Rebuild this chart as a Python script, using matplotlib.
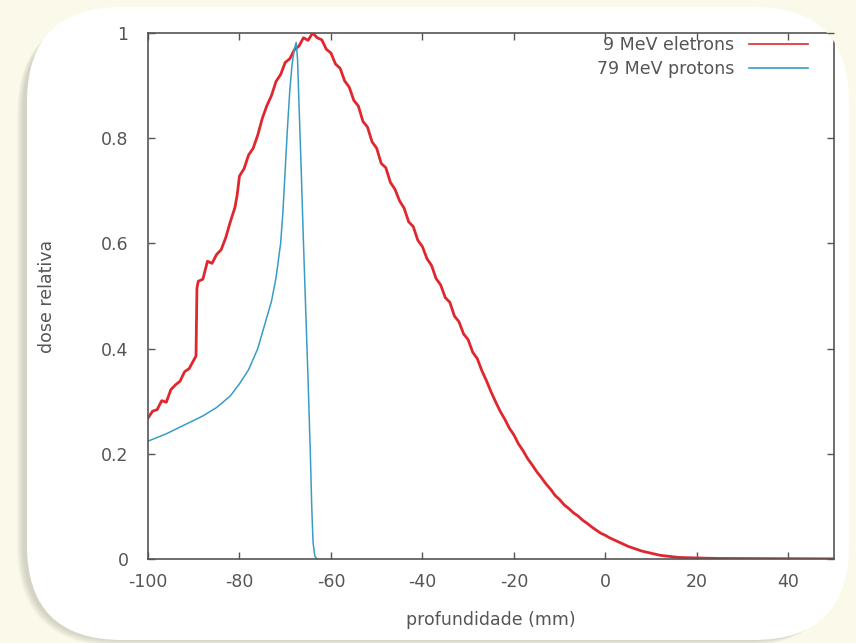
import numpy as np
import matplotlib
matplotlib.use("Agg")
import matplotlib.pyplot as plt
from matplotlib.patches import FancyBboxPatch

plt.rcParams['axes.unicode_minus'] = False
plt.rcParams['font.family'] = 'DejaVu Sans'

# 9 MeV electrons (depth in mm, relative dose)
elec_x = [-100, -99, -98, -97, -96, -95, -94, -93, -92, -91, -90, -89.5, -89.3,
          -89, -88, -87, -86, -85, -84, -83, -82, -81, -80.5, -80, -79, -78, -77,
          -76, -75, -74, -73, -72, -71, -70, -69, -68, -67, -66, -65, -64, -63,
          -62, -61, -60, -59, -58, -57, -56, -55, -54, -53, -52, -51, -50, -49,
          -48, -47, -46, -45, -44, -43, -42, -41, -40, -39, -38, -37, -36, -35,
          -34, -33, -32, -31, -30, -29, -28, -27, -26, -25, -24, -23, -22, -21,
          -20, -19, -18, -17, -16, -15, -14, -13, -12, -11, -10, -9, -8, -7, -6,
          -5, -4, -3, -2, -1, 0, 1, 2, 3, 4, 5, 6, 7, 8, 9, 10, 11, 12, 13, 14,
          15, 16, 18, 20, 22, 25, 30, 35, 40, 45, 50]
elec_y = [0.268, 0.281, 0.284, 0.301, 0.298, 0.322, 0.331, 0.338, 0.356, 0.362,
          0.378, 0.386, 0.515,
          0.528, 0.532, 0.566, 0.562, 0.579, 0.588, 0.611, 0.641, 0.668, 0.692,
          0.728, 0.742, 0.768, 0.781, 0.806, 0.838, 0.862, 0.881, 0.908, 0.921,
          0.944, 0.951, 0.968, 0.975, 0.991, 0.986, 1.0, 0.991, 0.987, 0.969,
          0.962, 0.941, 0.933, 0.909, 0.897, 0.872, 0.861, 0.832, 0.821, 0.793,
          0.781, 0.752, 0.744, 0.716, 0.703, 0.681, 0.667, 0.641, 0.632, 0.606,
          0.594, 0.571, 0.558, 0.533, 0.521, 0.497, 0.488, 0.462, 0.451, 0.428,
          0.417, 0.393, 0.381, 0.358, 0.339, 0.318, 0.299, 0.281, 0.266, 0.249,
          0.236, 0.219, 0.206, 0.191, 0.179, 0.166, 0.155, 0.143, 0.133, 0.121,
          0.113, 0.103, 0.096, 0.088, 0.082, 0.074, 0.068, 0.061, 0.055, 0.049,
          0.045, 0.040, 0.036, 0.032, 0.028, 0.024, 0.021, 0.018, 0.015, 0.013,
          0.011, 0.009, 0.007, 0.006, 0.005, 0.004, 0.003, 0.0025, 0.002,
          0.0015, 0.001, 0.0008, 0.0006, 0.0005, 0.0004, 0.0003]

# 79 MeV protons
prot_x = [-100, -96, -92, -88, -85, -82, -80, -78, -76, -74, -73, -72, -71,
          -70.5, -70, -69.5, -69, -68.5, -68, -67.6, -67.3, -67, -66.5, -66,
          -65.5, -65, -64.5, -64.2, -63.9, -63.5, -63]
prot_y = [0.224, 0.238, 0.255, 0.272, 0.288, 0.31, 0.333, 0.36, 0.40, 0.46,
          0.49, 0.535, 0.60, 0.66, 0.74, 0.82, 0.89, 0.94, 0.97, 0.982, 0.95,
          0.87, 0.74, 0.60, 0.47, 0.34, 0.20, 0.10, 0.03, 0.005, 0.0]

xticks = [-100, -80, -60, -40, -20, 0, 20, 40]
yticks = [0, 0.2, 0.4, 0.6, 0.8, 1]
ytick_labels = ['0', '0.2', '0.4', '0.6', '0.8', '1']

W, H = 856, 643
fig = plt.figure(figsize=(W / 100, H / 100), dpi=100, facecolor='#fbfaea')

# background card with soft shadow (left / bottom)
bg = fig.add_axes([0, 0, 1, 1])
bg.set_xlim(0, W)
bg.set_ylim(H, 0)
bg.axis('off')
for k in range(7):
    sh = FancyBboxPatch((27 - 4 - k, 7 + 8), 825, 633 - 8 + k,
                        boxstyle="round,pad=0,rounding_size=%d" % (95 + k),
                        fc='#7a7a68', ec='none', alpha=0.045)
    bg.add_patch(sh)
card = FancyBboxPatch((27, 7), 822, 633, boxstyle="round,pad=0,rounding_size=95",
                      fc='white', ec='none')
bg.add_patch(card)

gray = '#555555'
ax = fig.add_axes([148 / W, (H - 559) / H, (834 - 148) / W, (559 - 33) / H])
ax.set_facecolor('none')

ax.plot(elec_x, elec_y, color='#e0262e', lw=2.0, label='9 MeV eletrons')
ax.plot(prot_x, prot_y, color='#3a9cc4', lw=1.1, label='79 MeV protons')

ax.set_xlim(-100, 50)
ax.set_ylim(0, 1)
ax.set_xticks(xticks)
ax.set_yticks(yticks)
ax.set_yticklabels(ytick_labels)
ax.tick_params(direction='in', top=True, right=True, length=5, width=1,
               colors=gray, labelsize=12.5)
ax.tick_params(axis='y', pad=14)
ax.tick_params(axis='x', pad=10)
for s in ax.spines.values():
    s.set_color(gray)
    s.set_linewidth(1.2)
    s.set_clip_path(card)

ax.set_xlabel('profundidade (mm)', fontsize=12.5, color=gray)
ax.set_ylabel('dose relativa', fontsize=12.5, color=gray)
ax.xaxis.set_label_coords(0.5, -0.098)
ax.yaxis.set_label_coords(-0.134, 0.5)

leg = ax.legend(loc='upper right', bbox_to_anchor=(0.962, 0.995), frameon=False,
                markerfirst=False, fontsize=12.5, handlelength=3.4,
                handletextpad=0.85, borderaxespad=0, borderpad=0,
                labelspacing=0.35)
for t in leg.get_texts():
    t.set_color(gray)
for l in leg.get_lines():
    l.set_linewidth(1.2)

fig.savefig('out.png', dpi=100, facecolor=fig.get_facecolor())
